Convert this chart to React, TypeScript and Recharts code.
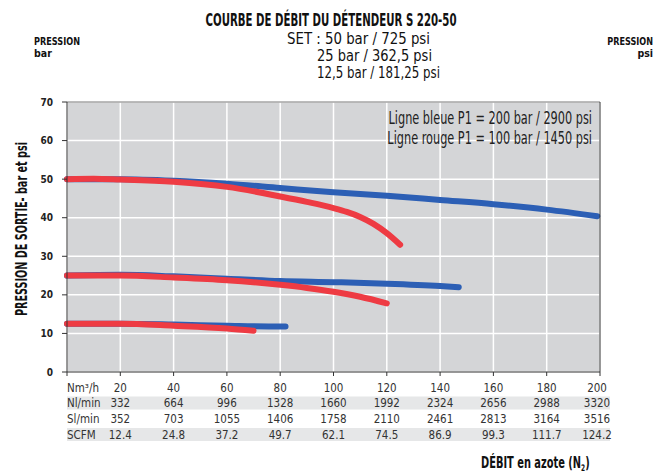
import { LineChart, Line, XAxis, YAxis, CartesianGrid, ReferenceLine } from "recharts"

// x axis ticks and the conversion table under it
const flowTicks = [0, 20, 40, 60, 80, 100, 120, 140, 160, 180, 200]
const nlMin = ["332", "664", "996", "1328", "1660", "1992", "2324", "2656", "2988", "3320"]
const slMin = ["352", "703", "1055", "1406", "1758", "2110", "2461", "2813", "3164", "3516"]
const scfm = ["12.4", "24.8", "37.2", "49.7", "62.1", "74.5", "86.9", "99.3", "111.7", "124.2"]
const rowLabels = ["Nm³/h", "Nl/min", "Sl/min", "SCFM"]

const barTicks = [0, 10, 20, 30, 40, 50, 60, 70]
const psiTicks = [0, 145, 290, 435, 580, 725, 870, 1015]

// curves (flow Nm3/h, outlet pressure bar)
const blue50Flow = [0, 20, 40, 60, 80, 100, 120, 140, 160, 180, 199]
const blue50Bar = [50.0, 50.0, 49.6, 48.8, 47.7, 46.6, 45.7, 44.6, 43.5, 42.1, 40.4]
const red50Flow = [0, 10, 20, 40, 60, 80, 90, 100, 105, 110, 115, 120, 125]
const red50Bar = [50.0, 50.1, 49.9, 49.3, 48.0, 45.5, 44.1, 42.5, 41.5, 40.2, 38.4, 36.0, 33.0]
const blue25Flow = [0, 20, 40, 60, 80, 100, 120, 140, 147]
const blue25Bar = [25.0, 25.2, 24.8, 24.2, 23.6, 23.3, 22.9, 22.3, 22.0]
const red25Flow = [0, 20, 40, 60, 80, 90, 100, 110, 120]
const red25Bar = [25.0, 25.0, 24.5, 23.8, 22.6, 21.8, 20.8, 19.5, 17.8]
const blue12Flow = [0, 20, 40, 60, 80, 82]
const blue12Bar = [12.5, 12.5, 12.3, 12.0, 11.8, 11.8]
const red12Flow = [0, 20, 40, 60, 70]
const red12Bar = [12.5, 12.5, 12.0, 11.3, 10.7]

const toPoints = (flow: number[], bar: number[]) => flow.map((f, i) => ({ flow: f, bar: bar[i] }))

const BLUE = "#2c5fb5"
const RED = "#ee3b43"
const NARROW = "'Liberation Sans Narrow', 'DejaVu Sans Condensed', 'Arial Narrow', sans-serif"

const FlowTick = (props: any) => {
  const { x, y, payload } = props
  const i = flowTicks.indexOf(payload.value)
  const rows = [12, 27, 43, 58.5]
  if (i === 0) {
    return (
      <g fontFamily={NARROW} fontSize={11.5} fill="#333">
        <rect x={x} y={y + rows[1] - 6.5} width={543} height={13} fill="#e6e7e8" />
        <rect x={x} y={y + rows[3] - 6.5} width={543} height={13} fill="#e6e7e8" />
        {rowLabels.map((l, r) => (
          <text key={l} x={x} y={y + rows[r]} dominantBaseline="central" fill="#333">
            {l}
          </text>
        ))}
      </g>
    )
  }
  const vals = [String(payload.value), nlMin[i - 1], slMin[i - 1], scfm[i - 1]]
  const cx = i === flowTicks.length - 1 ? x - 3 : x
  return (
    <g fontFamily={NARROW} fontSize={11.5}>
      {vals.map((v, r) => (
        <text key={r} x={cx} y={y + rows[r]} textAnchor="middle" dominantBaseline="central" fill="#333">
          {v}
        </text>
      ))}
    </g>
  )
}

const lineProps = {
  type: "monotone" as const,
  dataKey: "bar",
  strokeWidth: 6,
  strokeLinecap: "round" as const,
  dot: false,
  activeDot: false,
  isAnimationActive: false,
}

export default function App() {
  const tickFont = { fontFamily: NARROW, fontSize: 10, fontWeight: 700, fill: "#222" }
  const fit = "spacingAndGlyphs"
  return (
    <div style={{ position: "absolute", left: 0, top: 0, width: 657, height: 472, background: "#fff" }}>
      <LineChart width={657} height={472} margin={{ top: 102, right: 7, bottom: 20, left: 7 }}>
        <CartesianGrid fill="#d4d5d7" stroke="#fff" strokeWidth={1.5} />
        <XAxis
          dataKey="flow"
          type="number"
          domain={[0, 200]}
          ticks={flowTicks}
          tick={<FlowTick />}
          tickSize={4}
          tickMargin={0}
          height={80}
          axisLine={{ stroke: "#333" }}
          tickLine={{ stroke: "#333" }}
          allowDuplicatedCategory={false}
        />
        <YAxis
          yAxisId={0}
          domain={[0, 70]}
          ticks={barTicks}
          width={60}
          tick={tickFont}
          tickSize={5}
          tickMargin={9}
          axisLine={{ stroke: "#333" }}
          tickLine={{ stroke: "#333" }}
        />
        <YAxis
          yAxisId="psi"
          orientation="right"
          domain={[0, 1015]}
          ticks={psiTicks}
          width={50}
          tick={tickFont}
          tickSize={4}
          tickMargin={4}
          axisLine={{ stroke: "#333" }}
          tickLine={{ stroke: "#333" }}
        />
        <ReferenceLine y={70} stroke="#777" strokeWidth={1} />
        <Line {...lineProps} data={toPoints(blue50Flow, blue50Bar)} stroke={BLUE} />
        <Line {...lineProps} data={toPoints(blue25Flow, blue25Bar)} stroke={BLUE} />
        <Line {...lineProps} data={toPoints(blue12Flow, blue12Bar)} stroke={BLUE} />
        <Line {...lineProps} data={toPoints(red50Flow, red50Bar)} stroke={RED} />
        <Line {...lineProps} data={toPoints(red25Flow, red25Bar)} stroke={RED} />
        <Line {...lineProps} data={toPoints(red12Flow, red12Bar)} stroke={RED} />
      </LineChart>
      <svg width={657} height={472} style={{ position: "absolute", left: 0, top: 0, pointerEvents: "none" }}>
        <g fontFamily={NARROW} fill="#111">
          <text x={331} y={26} textAnchor="middle" fontSize={18} fontWeight={700} textLength={251} lengthAdjust={fit}>
            COURBE DE DÉBIT DU DÉTENDEUR S 220-50
          </text>
          <text x={430} y={44} textAnchor="end" fontSize={15.5} textLength={143} lengthAdjust={fit}>SET : 50 bar / 725 psi</text>
          <text x={432} y={61} textAnchor="end" fontSize={15.5} textLength={115} lengthAdjust={fit}>25 bar / 362,5 psi</text>
          <text x={440} y={78} textAnchor="end" fontSize={15.5} textLength={123} lengthAdjust={fit}>12,5 bar / 181,25 psi</text>
          <text x={80} y={45} textAnchor="end" fontSize={10.5} fontWeight={700} textLength={46} lengthAdjust={fit}>PRESSION</text>
          <text x={34} y={57} fontSize={10.5} fontWeight={700}>bar</text>
          <g transform="translate(653 45) scale(0.86 1)">
            <text x={0} y={0} textAnchor="end" fontSize={10.5} fontWeight={700}>PRESSION</text>
          </g>
          <text x={653} y={57} textAnchor="end" fontSize={10.5} fontWeight={700}>psi</text>
          <g transform="translate(592 0) scale(0.74 1)" fill="#222">
            <text x={0} y={124} textAnchor="end" fontSize={17}>
              Ligne bleue P1 = 200 bar / 2900 psi
            </text>
            <text x={0} y={144} textAnchor="end" fontSize={17}>
              Ligne rouge P1 = 100 bar / 1450 psi
            </text>
          </g>
          <text
            x={27}
            y={229}
            textAnchor="middle"
            fontSize={15}
            fontWeight={700}
            textLength={174}
            lengthAdjust={fit}
            transform="rotate(-90 27 229)"
          >
            PRESSION DE SORTIE- bar et psi
          </text>
          <g transform="translate(481 468) scale(0.73 1)">
            <text x={0} y={0} fontSize={15} fontWeight={700}>
              DÉBIT en azote (N<tspan fontSize={9} dy={3}>2</tspan>
              <tspan dy={-3}>)</tspan>
            </text>
          </g>
        </g>
      </svg>
    </div>
  )
}
